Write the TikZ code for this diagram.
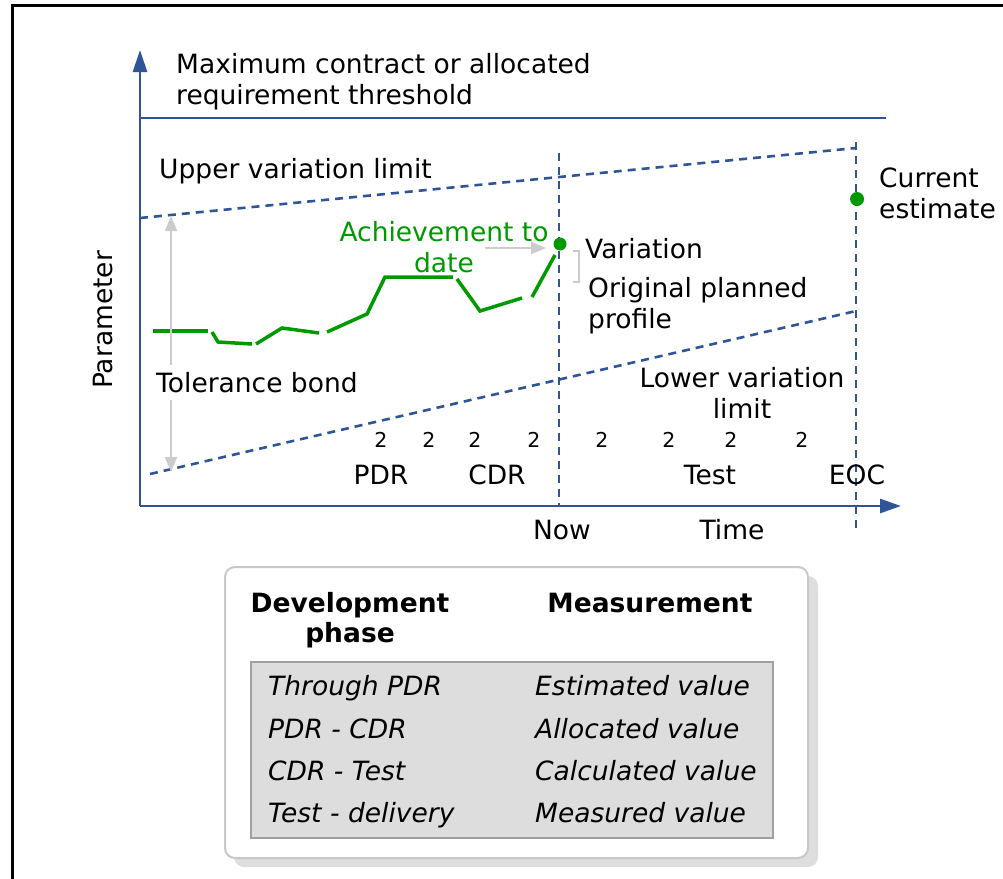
\documentclass[tikz,border=0pt]{standalone}
\usepackage{fontspec}
\setmainfont{DejaVu Sans}
\usetikzlibrary{arrows.meta}

\definecolor{axisblue}{RGB}{47,85,151}
\definecolor{trendgreen}{RGB}{0,153,0}
\definecolor{guidegray}{RGB}{204,204,204}
\definecolor{shadowgray}{RGB}{222,222,222}
\definecolor{boxedge}{RGB}{200,200,200}
\definecolor{tablefill}{RGB}{221,221,221}
\definecolor{tableedge}{RGB}{160,160,160}

\tikzset{
  txt/.style={inner sep=0pt, font=\fontsize{26.5}{31}\selectfont, text=black},
  smalltxt/.style={inner sep=0pt, font=\fontsize{20.5}{24}\selectfont, text=black},
  axisline/.style={draw=axisblue, line width=2.8pt},
  limitline/.style={draw=axisblue, line width=2.6pt, dash pattern=on 8pt off 6pt},
  trend/.style={draw=trendgreen, line width=3.5pt},
  guide/.style={draw=guidegray, line width=2.2pt},
  guidetip/.style={-{Triangle[length=15pt,width=12pt]}},
  dot/.style={circle, fill=trendgreen, inner sep=0pt, minimum size=13pt},
  headtxt/.style={inner sep=0pt, font=\fontsize{26.5}{30}\selectfont\bfseries, align=center},
  rowtxt/.style={inner sep=0pt, font=\fontsize{26.5}{30}\selectfont\itshape, anchor=base west},
}

\begin{document}
\begin{tikzpicture}[x=1pt, y=-1pt]
\useasboundingbox (0,0) rectangle (1003,878);
\clip (0,0) rectangle (1003,878);

% outer frame (runs off the right and bottom edges)
\draw[line width=2.6pt] (12.5,5.5) rectangle (1030,910);

% axes
\coordinate (origin) at (140,506);
\coordinate (ytop) at (140,50);
\coordinate (xend) at (901,506);
\draw[axisline, -{Triangle[length=22pt,width=14pt]}] (origin) -- (ytop);
\draw[axisline, -{Triangle[length=21pt,width=14pt]}] (origin) -- (xend);

% maximum threshold
\coordinate (maxL) at (140,118);
\coordinate (maxR) at (886,118);
\draw[axisline, line width=2.4pt] (maxL) -- (maxR);

% variation limits
\coordinate (upL) at (140,218);
\coordinate (upR) at (856,148);
\coordinate (loL) at (150,474);
\coordinate (loR) at (856,311);
\draw[limitline] (upL) -- (upR);
\draw[limitline] (loL) -- (loR);

% now / end-of-contract markers
\coordinate (nowT) at (559,153);
\coordinate (nowB) at (559,506);
\coordinate (eocT) at (856,142);
\coordinate (eocB) at (856,531);
\draw[limitline] (nowT) -- (nowB);
\draw[limitline] (eocT) -- (eocB);

% achievement profile
\draw[trend] (153,331) -- (208,331);
\draw[trend] (212,332) -- (218,342) -- (252,344);
\draw[trend] (256,344) -- (282,328) -- (319,333);
\draw[trend] (327,332) -- (367,314) -- (385,277) -- (453,277);
\draw[trend] (457,279) -- (480,311) -- (522,298);
\draw[trend] (532,297) -- (555,255);
\node[dot] (achieved) at (560,244) {};
\node[dot, minimum size=14pt] (estimate) at (857,199) {};

% tolerance band arrows
\coordinate (tolA) at (171,365);
\coordinate (tolAt) at (171,216);
\coordinate (tolB) at (171,400);
\coordinate (tolBt) at (171,472);
\draw[guide, guidetip] (tolA) -- (tolAt);
\draw[guide, guidetip] (tolB) -- (tolBt);

% pointer to achievement and variation bracket
\coordinate (achS) at (485,248);
\coordinate (achE) at (546,248);
\draw[guide, guidetip] (achS) -- (achE);
\coordinate (brT) at (573,251);
\coordinate (brB) at (573,282);
\draw[guide, line width=2pt] (brT) -- ++(6,0) |- (brB);

% labels (multi-line nodes are anchored on their last baseline)
\node[txt, anchor=base west, align=left] (maxlbl) at (176,104) {Maximum contract or allocated\\requirement threshold};
\node[txt, anchor=base west] (uplbl) at (159,178) {Upper variation limit};
\node[txt, anchor=base, align=center, text=trendgreen] (achlbl) at (444,272) {Achievement to\\date};
\node[txt, anchor=base west] (varlbl) at (585,258) {Variation};
\node[txt, anchor=base west, align=left] (orglbl) at (588,328) {Original planned\\profile};
\node[txt, anchor=base west, align=left] (estlbl) at (879,218) {Current\\estimate};
\node[txt, anchor=base west] (tollbl) at (156,392) {Tolerance bond};
\node[txt, anchor=base, align=center] (lolbl) at (742,418) {Lower variation\\limit};
\node[txt, rotate=90] (parlbl) at (103,320) {Parameter};

\foreach \i/\xx in {1/381,2/429,3/475,4/534,5/602,6/669,7/731,8/802}
  \node[smalltxt, anchor=base] (two\i) at (\xx,447) {2};

\node[txt, anchor=base] (pdr) at (381,484) {PDR};
\node[txt, anchor=base] (cdr) at (497,484) {CDR};
\node[txt, anchor=base] (test) at (710,484) {Test};
\node[txt, anchor=base] (eoc) at (857,484) {EOC};
\node[txt, anchor=base] (now) at (562,539) {Now};
\node[txt, anchor=base] (time) at (732,539) {Time};

% measurement legend
\fill[shadowgray, rounded corners=10pt] (234,576) rectangle (818,867);
\draw[boxedge, fill=white, line width=2pt, rounded corners=10pt] (225,567) rectangle (808,858);
\node[headtxt, anchor=base] (devhead) at (350,642) {Development\\phase};
\node[headtxt, anchor=base] (meashead) at (650,612) {Measurement};
\draw[tableedge, fill=tablefill, line width=2pt] (251,662) rectangle (773,838);

\node[rowtxt] (r1a) at (268,695) {Through PDR};
\node[rowtxt] (r2a) at (268,738) {PDR - CDR};
\node[rowtxt] (r3a) at (268,780) {CDR - Test};
\node[rowtxt] (r4a) at (268,822) {Test - delivery};
\node[rowtxt] (r1b) at (535,695) {Estimated value};
\node[rowtxt] (r2b) at (535,738) {Allocated value};
\node[rowtxt] (r3b) at (535,780) {Calculated value};
\node[rowtxt] (r4b) at (535,822) {Measured value};
\end{tikzpicture}
\end{document}
